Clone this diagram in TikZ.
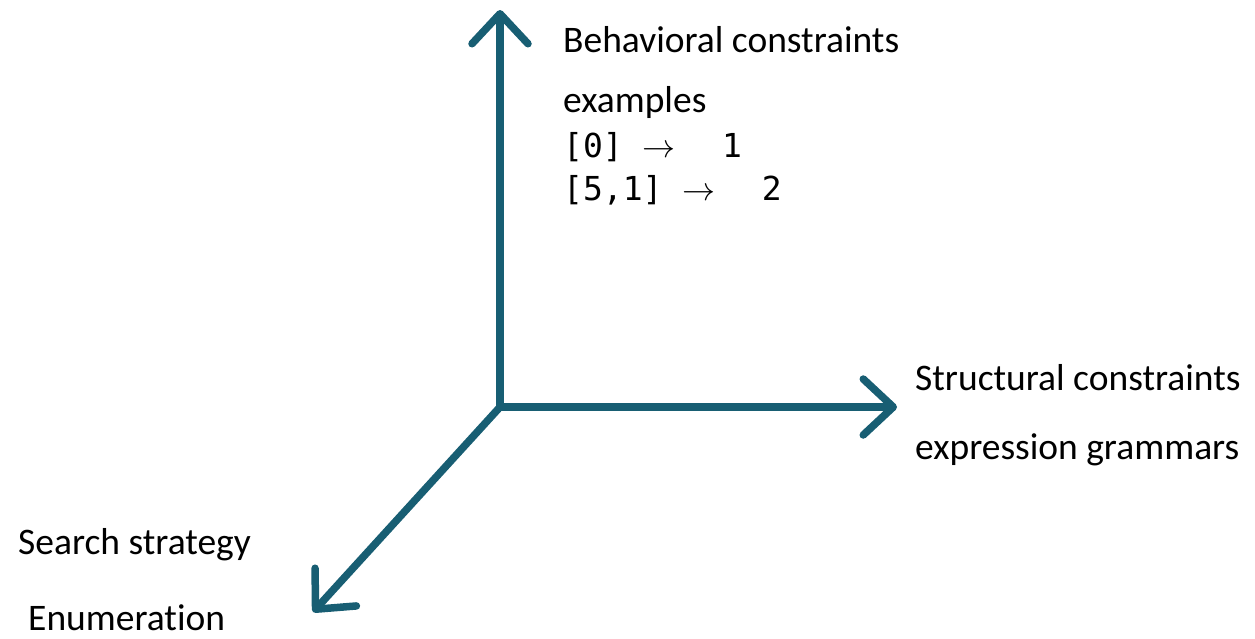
\RequirePackage{fix-cm}
\documentclass[tikz,border=0pt]{standalone}
\usepackage{fontspec}
\setmainfont{Carlito}[RawFeature=-liga]
\setmonofont{DejaVu Sans Mono}
\usepackage{xcolor}
\usepackage{tikz}
\usetikzlibrary{arrows.meta, positioning}
\definecolor{axisteal}{RGB}{24, 94, 115}
\newcommand{\maparrow}{\makebox[1.204em][l]{$\rightarrow$}}

\begin{document}
\begin{tikzpicture}[
    x=1pt, y=-1pt,
    axis/.style={draw=axisteal, line width=7.5pt,
                 -{Straight Barb[round, length=30pt, width=56pt, line width=7.5pt]}},
    label/.style={anchor=west, inner sep=0pt, font=\fontsize{37.5}{44}\selectfont},
    code/.style={anchor=west, inner sep=0pt, font=\fontsize{33}{43}\selectfont\ttfamily}
]
    \useasboundingbox (0,0) rectangle (1255,638);

    % Axes
    \coordinate (origin) at (500,407);
    \coordinate (behtip) at (500,10);
    \coordinate (strtip) at (897,407);
    \coordinate (srchtip) at (313,612);
    \draw[axis] (origin) -- (behtip);
    \draw[axis] (origin) -- (strtip);
    \draw[axis] (origin) -- (srchtip);

    % Behavioral constraints
    \node[label] (behtitle) at (563,40) {Behavioral constraints};
    \node[label] (behsub) at (563,102) {examples};
    \node[code] (ex1) at (563,147) {[0]~\maparrow~~1};
    \node[code] (ex2) at (563,190) {[5,1]~\maparrow~~2};

    % Structural constraints
    \node[label] (strtitle) at (915,378) {Structural constraints};
    \node[label] (strsub) at (915,450) {expression grammars};

    % Search strategy
    \node[label] (srchtitle) at (18,545) {Search strategy};
    \node[label] (srchsub) at (28,618) {Enumeration};
\end{tikzpicture}
\end{document}
